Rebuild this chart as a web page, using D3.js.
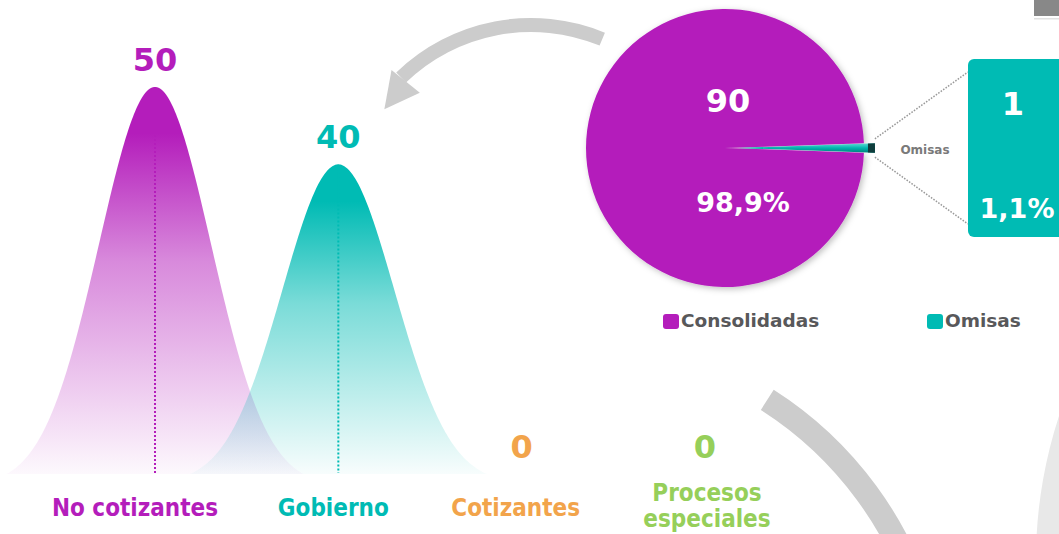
<!DOCTYPE html>
<html lang="es">
<head>
<meta charset="UTF-8">
<title>Declaraciones</title>
<script src="https://d3js.org/d3.v7.min.js"></script>
<style>
  body { margin: 0; background: #fff; }
  svg { display: block; }
  text { font-family: "DejaVu Sans", Verdana, sans-serif; font-weight: bold; }
</style>
</head>
<body>
<div id="chart"></div>
<script>
// data
var categories = ["No cotizantes", "Gobierno", "Cotizantes", "Procesos especiales"];
var values = [50, 40, 0, 0];
var colors = ["#b41dbb", "#00bbb4", "#f2a44b", "#96cf5a"];

var pieLabels = ["Consolidadas", "Omisas"];
var pieValues = [90, 1];
var pieColors = ["#b41dbb", "#00bbb4"];

// layout
var width = 1059, height = 534;
var baseY = 474;
var labelNudge = [-20, -5, -6, 2];

var svg = d3.select("#chart").append("svg")
    .attr("width", width)
    .attr("height", height);
var defs = svg.append("defs");

// background decorations (grey circular arrows)
var deco = svg.append("g");
var arrowC = [531, 212];
deco.append("path")
    .attr("transform", "translate(" + arrowC + ")")
    .attr("d", d3.arc().innerRadius(180).outerRadius(194)
        .startAngle(-44 * Math.PI / 180).endAngle(22.4 * Math.PI / 180)())
    .attr("fill", "#cccccc");
function polar(c, r, deg) {
  var a = deg * Math.PI / 180;
  return [c[0] + r * Math.sin(a), c[1] - r * Math.cos(a)];
}
deco.append("path")
    .attr("d", "M" + polar(arrowC, 163, -43) + "L" + polar(arrowC, 199, -44.5) + "L" + polar(arrowC, 179, -55) + "Z")
    .attr("fill", "#cccccc");

deco.append("path")
    .attr("transform", "translate(1498,560)")
    .attr("d", d3.arc().innerRadius(360).outerRadius(462)
        .startAngle(-100 * Math.PI / 180).endAngle(-60 * Math.PI / 180)())
    .attr("fill", "#e8e8e8");

deco.append("path")
    .attr("transform", "translate(569,711)")
    .attr("d", d3.arc().innerRadius(357).outerRadius(381)
        .startAngle(32.5 * Math.PI / 180).endAngle(75 * Math.PI / 180)())
    .attr("fill", "#cccccc");

svg.append("rect").attr("x", 1034).attr("y", 0).attr("width", 25).attr("height", 16).attr("fill", "#888888");
svg.append("rect").attr("x", 1034).attr("y", 18).attr("width", 25).attr("height", 1.5).attr("fill", "#e2e2e2");

// bell columns
var y = d3.scaleLinear().domain([0, 50]).range([baseY, 87]);
var x = d3.scalePoint().domain(categories).range([155, 705]);

var halfW = 149, sigma = 56, floor = 0.03;
function bellRel(dx) {
  var g = Math.exp(-dx * dx / (2 * sigma * sigma));
  return Math.max(0, (g - floor) / (1 - floor));
}
var offsets = d3.range(-halfW, halfW + 0.5, 1);
var area = d3.area()
    .x(function(d) { return d.x; })
    .y0(baseY)
    .y1(function(d) { return d.y; });

categories.forEach(function(c, i) {
  var g = defs.append("linearGradient")
      .attr("id", "grad" + i)
      .attr("x1", 0).attr("y1", 0).attr("x2", 0).attr("y2", 1);
  [[0, 1], [0.12, 1], [0.45, 0.52], [1, 0.03]].forEach(function(s) {
    g.append("stop").attr("offset", s[0]).attr("stop-color", colors[i]).attr("stop-opacity", s[1]);
  });
});

var cols = svg.append("g");
categories.forEach(function(c, i) {
  var v = values[i];
  if (v <= 0) return;
  var cx = x(c), top = y(v);
  var pts = offsets.map(function(dx) {
    return { x: cx + dx, y: baseY - bellRel(dx) * (baseY - top) };
  });
  cols.append("path")
      .attr("d", area(pts))
      .attr("fill", "url(#grad" + i + ")");
  cols.append("line")
      .attr("x1", cx).attr("x2", cx)
      .attr("y1", top).attr("y2", baseY - 1)
      .attr("stroke", colors[i])
      .attr("stroke-width", 2)
      .attr("stroke-dasharray", "2,2");
});

// value labels
svg.append("g").selectAll("text")
  .data(categories)
  .enter().append("text")
    .attr("x", function(d) { return x(d); })
    .attr("y", function(d, i) { return y(values[i]) - 16; })
    .attr("text-anchor", "middle")
    .attr("font-size", 32)
    .attr("fill", function(d, i) { return colors[i]; })
    .text(function(d, i) { return values[i]; });

// category labels (wrapped)
var catG = svg.append("g");
categories.forEach(function(c, i) {
  var t = catG.append("text")
      .attr("text-anchor", "middle")
      .attr("font-size", 24)
      .style("font-family", "'DejaVu Sans Condensed', 'DejaVu Sans', sans-serif")
      .style("font-stretch", "condensed")
      .attr("fill", colors[i]);
  var words = c.split(" "), lines = [], line = [];
  words.forEach(function(w) {
    line.push(w);
    t.text(line.join(" "));
    if (t.node().getComputedTextLength() > 180 && line.length > 1) {
      line.pop();
      lines.push(line.join(" "));
      line = [w];
    }
  });
  lines.push(line.join(" "));
  t.text(null);
  var first = 516 - (lines.length - 1) * 15;
  lines.forEach(function(l, k) {
    t.append("tspan")
      .attr("x", x(c) + labelNudge[i])
      .attr("y", first + k * 26)
      .text(l);
  });
});

// pie
var pieC = [725, 148], pieR = 139;
var total = d3.sum(pieValues);
var fmtPct = function(v) { return d3.format(".1f")(v / total * 100).replace(".", ",") + "%"; };
var a0 = Math.PI / 2 + Math.PI * pieValues[1] / total;
var arcs = d3.pie().sort(null).startAngle(a0).endAngle(a0 + 2 * Math.PI)(pieValues);

var shadow = defs.append("filter").attr("id", "shadow")
    .attr("x", "-20%").attr("y", "-20%").attr("width", "140%").attr("height", "140%");
shadow.append("feDropShadow").attr("dx", 2).attr("dy", 2).attr("stdDeviation", 3)
    .attr("flood-color", "#000").attr("flood-opacity", 0.25);

var sliceGrad = defs.append("linearGradient").attr("id", "sliceGrad")
    .attr("x1", 0).attr("y1", 0).attr("x2", 0).attr("y2", 1);
sliceGrad.append("stop").attr("offset", 0).attr("stop-color", "#5fdcd5");
sliceGrad.append("stop").attr("offset", 0.5).attr("stop-color", "#00b5ae");
sliceGrad.append("stop").attr("offset", 1).attr("stop-color", "#007f7a");

var pieG = svg.append("g").attr("transform", "translate(" + pieC + ")");
pieG.append("path")
    .attr("d", d3.arc().innerRadius(0).outerRadius(pieR)(arcs[0]))
    .attr("fill", pieColors[0])
    .attr("filter", "url(#shadow)");

var pull = 13;
var midA = (arcs[1].startAngle + arcs[1].endAngle) / 2;
var slice = pieG.append("g")
    .attr("transform", "translate(" + (pull * Math.sin(midA)) + "," + (-pull * Math.cos(midA)) + ")");
slice.append("path")
    .attr("d", d3.arc().innerRadius(0).outerRadius(pieR - 2)(arcs[1]))
    .attr("fill", "url(#sliceGrad)");
slice.append("path")
    .attr("d", d3.arc().innerRadius(pieR - 9).outerRadius(pieR - 2)(arcs[1]))
    .attr("fill", "#0f3d3c");

pieG.append("text")
    .attr("x", 3).attr("y", -36)
    .attr("text-anchor", "middle")
    .attr("font-size", 32)
    .attr("fill", "#fff")
    .text(pieValues[0]);
pieG.append("text")
    .attr("x", 18).attr("y", 64)
    .attr("text-anchor", "middle")
    .attr("font-size", 27)
    .attr("fill", "#fff")
    .text(fmtPct(pieValues[0]));

// omisas breakdown box
var tip = pull + pieR - 2;
var tipTop = [pieC[0] + tip * Math.sin(arcs[1].startAngle), pieC[1] - tip * Math.cos(arcs[1].startAngle)];
var tipBot = [pieC[0] + tip * Math.sin(arcs[1].endAngle), pieC[1] - tip * Math.cos(arcs[1].endAngle)];
var box = { x: 968, y: 59, w: 100, h: 178 };

svg.append("line")
    .attr("x1", tipTop[0]).attr("y1", tipTop[1] - 4)
    .attr("x2", box.x).attr("y2", box.y + 13)
    .attr("stroke", "#9a9a9a").attr("stroke-width", 1.5).attr("stroke-dasharray", "1.5,1.5");
svg.append("line")
    .attr("x1", tipBot[0]).attr("y1", tipBot[1] + 4)
    .attr("x2", box.x).attr("y2", box.y + box.h - 13)
    .attr("stroke", "#9a9a9a").attr("stroke-width", 1.5).attr("stroke-dasharray", "1.5,1.5");

svg.append("text")
    .attr("x", 925).attr("y", 154)
    .attr("text-anchor", "middle")
    .attr("font-size", 12)
    .attr("fill", "#7a7a7a")
    .text(pieLabels[1]);

svg.append("rect")
    .attr("x", box.x).attr("y", box.y)
    .attr("width", box.w).attr("height", box.h)
    .attr("rx", 6)
    .attr("fill", pieColors[1]);
svg.append("text")
    .attr("x", box.x + 45).attr("y", 115)
    .attr("text-anchor", "middle")
    .attr("font-size", 32)
    .attr("fill", "#fff")
    .text(pieValues[1]);
svg.append("text")
    .attr("x", box.x + 49).attr("y", 218)
    .attr("text-anchor", "middle")
    .attr("font-size", 27)
    .attr("fill", "#fff")
    .text(fmtPct(pieValues[1]));

// legend
var legendX = [663, 927];
var leg = svg.append("g");
pieLabels.forEach(function(l, i) {
  leg.append("rect")
      .attr("x", legendX[i]).attr("y", 314)
      .attr("width", 16).attr("height", 15)
      .attr("rx", 3)
      .attr("fill", pieColors[i]);
  leg.append("text")
      .attr("x", legendX[i] + 18).attr("y", 327)
      .attr("font-size", 18.5)
      .attr("fill", "#58585a")
      .text(l);
});
</script>
</body>
</html>
